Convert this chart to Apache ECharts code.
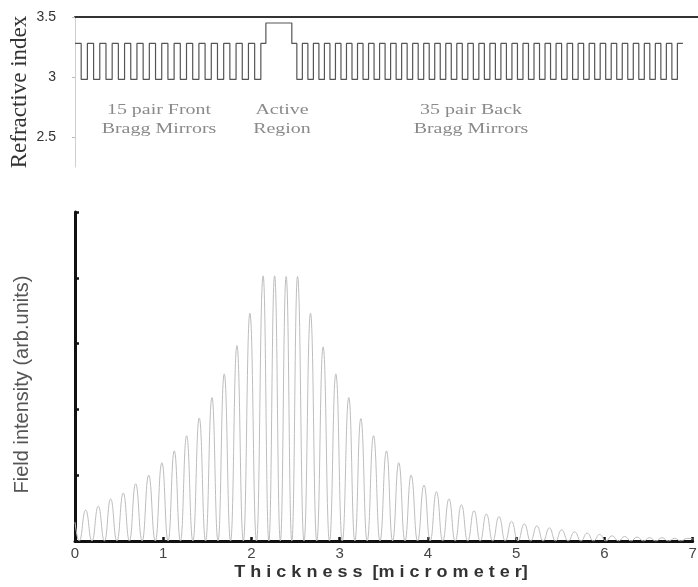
<!DOCTYPE html>
<html>
<head>
<meta charset="utf-8">
<script src="https://cdn.jsdelivr.net/npm/echarts@6/dist/echarts.min.js"></script>
<style>
  html, body { margin: 0; padding: 0; background: #ffffff; }
  #chart { width: 698px; height: 587px; }
</style>
</head>
<body>
<div id="chart"></div>
<script>
// ---- Layer stack of the laser structure (refractive index vs. depth, µm) ----
const frontIndex = [3.28, 2.98];          // one front mirror pair: high / low
const frontThickness = [0.0702, 0.0702];
const frontPairs = 15;
const activeIndex = [3.28, 3.45, 3.28];   // cladding / core / cladding
const activeThickness = [0.057, 0.294, 0.057];
const backIndex = [2.98, 3.28];           // one back mirror pair: low / high
const backThickness = [0.0625, 0.0625];
const backPairs = 35;

// ---- Optical field intensity along the structure ----
const fieldStart = [0, 0.29];
const fieldEnd = [7.0, 0.03];
const peakX = [0.121, 0.264, 0.404, 0.547, 0.687, 0.835, 0.985, 1.125, 1.265, 1.408,
  1.552, 1.691, 1.835, 1.982, 2.132, 2.262, 2.393, 2.522, 2.669, 2.812,
  2.956, 3.103, 3.239, 3.383, 3.530, 3.669, 3.809, 3.955, 4.096, 4.238,
  4.379, 4.522, 4.662, 4.805, 4.947, 5.092, 5.234, 5.376, 5.515, 5.662,
  5.804, 5.946, 6.087, 6.229, 6.370, 6.512, 6.653, 6.795, 6.937];
const peakY = [0.47, 0.53, 0.64, 0.73, 0.87, 1.00, 1.19, 1.37, 1.60, 1.87,
  2.18, 2.54, 2.97, 3.46, 4.03, 4.03, 4.02, 4.02, 3.46, 2.95,
  2.54, 2.18, 1.86, 1.60, 1.37, 1.19, 1.00, 0.85, 0.75, 0.64,
  0.55, 0.46, 0.41, 0.37, 0.30, 0.26, 0.23, 0.20, 0.17, 0.14,
  0.12, 0.10, 0.08, 0.07, 0.06, 0.05, 0.05, 0.04, 0.04];
const nodeX = [0.048, 0.192, 0.334, 0.475, 0.617, 0.761, 0.910, 1.055, 1.195, 1.336,
  1.480, 1.621, 1.763, 1.908, 2.057, 2.197, 2.327, 2.457, 2.595, 2.740,
  2.884, 3.029, 3.171, 3.311, 3.456, 3.599, 3.739, 3.882, 4.025, 4.167,
  4.308, 4.450, 4.592, 4.733, 4.876, 5.019, 5.163, 5.305, 5.445, 5.588,
  5.733, 5.875, 6.016, 6.158, 6.300, 6.441, 6.582, 6.724, 6.866];
const nodeY = 0;

// axis ticks / labels
const depthTicks = [0, 1, 2, 3, 4, 5, 6, 7];
const indexLabels = [2.5, 3, 3.5];
const depthTitle = 'T h i c k n e s s  [m i c r o m e t e r]';

// ---- build the step profile from the layer stack ----
function buildProfile() {
  const layers = [];
  for (let p = 0; p < frontPairs; p++) {
    frontIndex.forEach((n, i) => layers.push([frontThickness[i], n]));
  }
  activeIndex.forEach((n, i) => layers.push([activeThickness[i], n]));
  for (let p = 0; p < backPairs; p++) {
    backIndex.forEach((n, i) => layers.push([backThickness[i], n]));
  }
  const pts = [];
  let z = 0;
  layers.forEach(([t, n]) => { pts.push([z, n]); z += t; });
  pts.push([z, layers[layers.length - 1][1]]);
  return pts;
}

function buildField() {
  const pts = [fieldStart];
  peakX.forEach((x, i) => pts.push([x, peakY[i]]));
  nodeX.forEach(x => pts.push([x, nodeY]));
  pts.push(fieldEnd);
  pts.sort((a, b) => a[0] - b[0]);
  return pts;
}

const chart = echarts.init(document.getElementById('chart'), null, { renderer: 'canvas' });

const serifLabel = (text, x, y) => ({
  type: 'text',
  x: x, y: y,
  scaleX: 1.33,
  style: {
    text: text,
    font: '15px "Liberation Serif", "Times New Roman", serif',
    fill: '#8a8a8a',
    align: 'center',
    verticalAlign: 'middle',
    lineHeight: 19
  }
});

chart.setOption({
  backgroundColor: '#ffffff',
  animation: false,
  grid: [
    { left: 75, right: 0, top: 17, height: 150, outerBoundsMode: 'none', containLabel: false },
    { left: 75, right: 5.3, top: 212, bottom: 46, outerBoundsMode: 'none', containLabel: false }
  ],
  xAxis: [
    {
      gridIndex: 0, type: 'value', min: 0, max: 7.06, position: 'top',
      axisLine: { show: true, lineStyle: { color: '#333', width: 2 } },
      axisTick: { show: false }, axisLabel: { show: false }, splitLine: { show: false }
    },
    {
      gridIndex: 1, type: 'value', min: 0, max: 7, interval: 1,
      axisLine: { show: true, lineStyle: { color: '#111', width: 3 } },
      axisTick: { show: true, inside: true, length: 4, lineStyle: { color: '#111', width: 2.5 },
        customValues: depthTicks },
      axisLabel: { show: true, margin: 5, color: '#444', fontSize: 15,
        fontFamily: '"Liberation Sans", Arial, sans-serif', customValues: depthTicks },
      splitLine: { show: false }
    }
  ],
  yAxis: [
    {
      gridIndex: 0, type: 'value', min: 2.25, max: 3.5,
      axisLine: { show: true, lineStyle: { color: '#cfcfcf', width: 1 } },
      axisTick: { show: true, length: 3, lineStyle: { color: '#bbb' }, customValues: indexLabels },
      axisLabel: { show: true, margin: 19, color: '#333', fontSize: 14,
        fontFamily: '"Liberation Sans", Arial, sans-serif', customValues: indexLabels },
      splitLine: { show: false },
      name: 'Refractive index', nameLocation: 'middle', nameGap: 44, nameMoveOverlap: false,
      nameTextStyle: { fontSize: 23, color: '#333',
        fontFamily: '"Liberation Serif", "Times New Roman", serif' }
    },
    {
      gridIndex: 1, type: 'value', min: 0, max: 5, interval: 1,
      axisLine: { show: true, lineStyle: { color: '#111', width: 3 } },
      axisTick: { show: true, inside: true, length: 4, lineStyle: { color: '#111', width: 2.5 } },
      axisLabel: { show: false },
      splitLine: { show: false },
      name: 'Field intensity (arb.units)', nameLocation: 'middle', nameGap: 43,
      nameTextStyle: { fontSize: 20, color: '#555', padding: [0, 16, 0, 0],
        fontFamily: '"Liberation Sans", Arial, sans-serif' }
    }
  ],
  graphic: [
    serifLabel('15 pair Front\nBragg Mirrors', 159, 120),
    serifLabel('Active\nRegion', 282, 120),
    serifLabel('35 pair Back\nBragg Mirrors', 471, 120),
    {
      type: 'text', x: 381, y: 572, scaleX: 1.06,
      style: {
        text: depthTitle,
        font: 'bold 17px "Liberation Sans", Arial, sans-serif',
        fill: '#333', align: 'center', verticalAlign: 'middle'
      }
    }
  ],
  series: [
    {
      type: 'line', xAxisIndex: 0, yAxisIndex: 0,
      data: buildProfile(), step: 'end', showSymbol: false, symbol: 'none',
      lineStyle: { color: '#555', width: 1.2 }
    },
    {
      type: 'line', xAxisIndex: 1, yAxisIndex: 1,
      data: buildField(), smooth: 0.5, smoothMonotone: 'x', showSymbol: false, symbol: 'none',
      lineStyle: { color: '#bdbdbd', width: 1 }
    }
  ]
});
</script>
</body>
</html>
